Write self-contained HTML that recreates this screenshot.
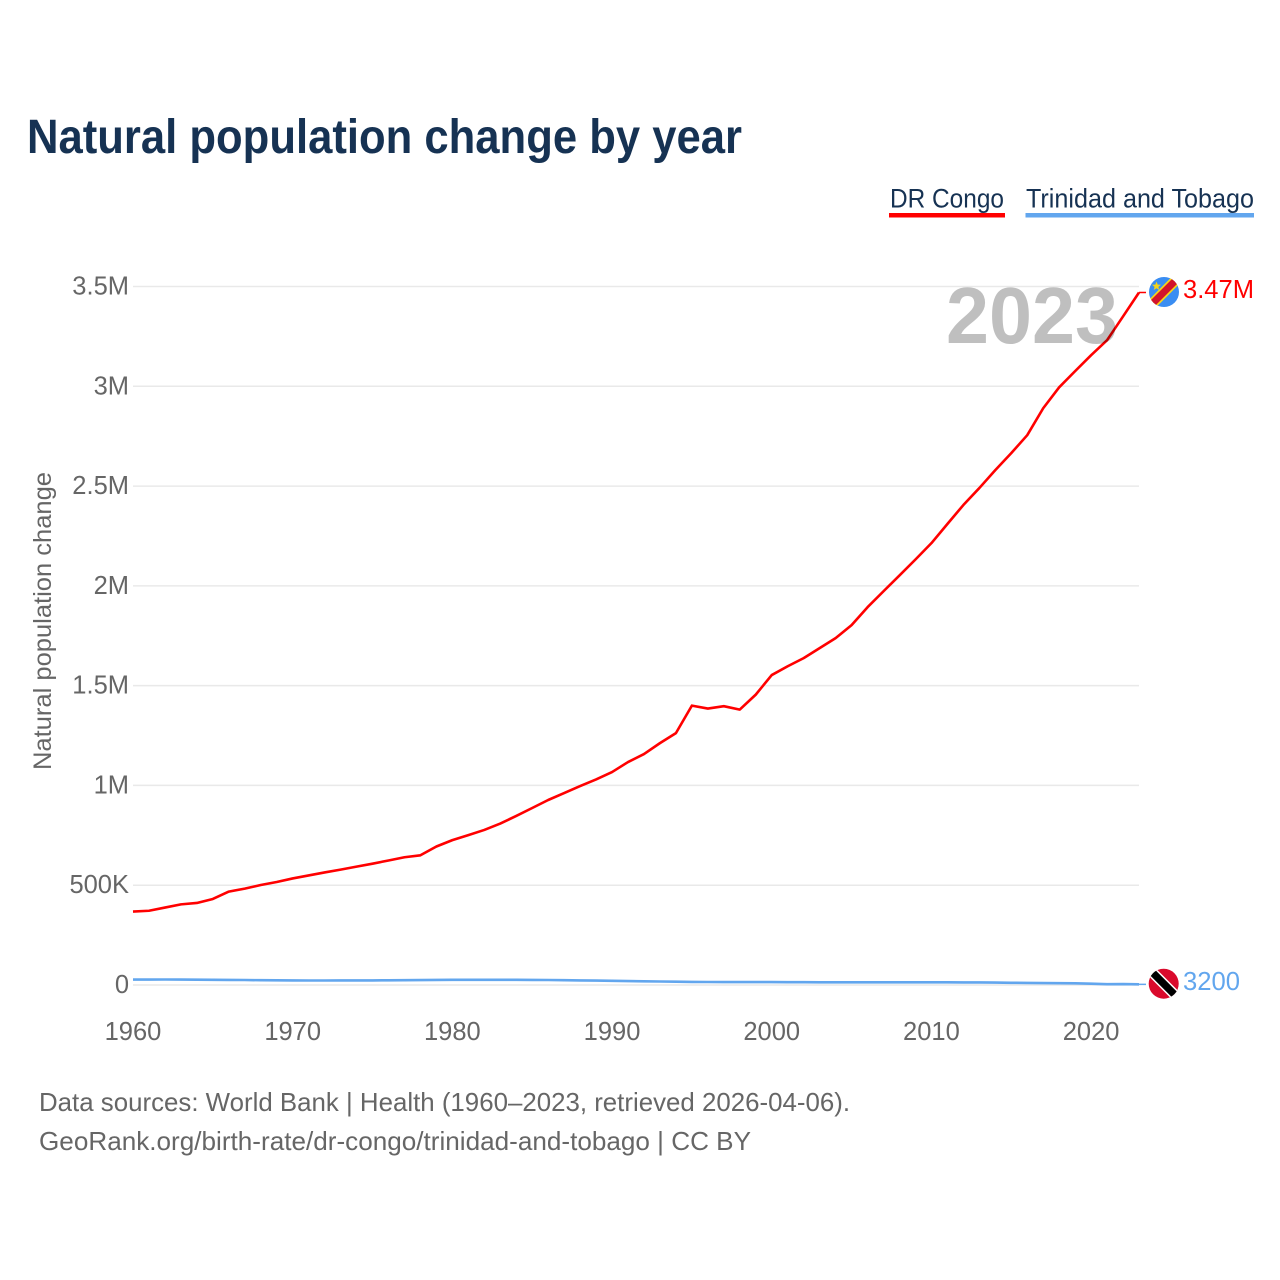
<!DOCTYPE html>
<html lang="en">
<head>
<meta charset="utf-8">
<title>Natural population change by year</title>
<style>
html,body{margin:0;padding:0;background:#fff;}
svg{display:block;font-family:"Liberation Sans",sans-serif;}
</style>
</head>
<body>
<svg id="chart" width="1280" height="1280" viewBox="0 0 1280 1280" xmlns="http://www.w3.org/2000/svg">
<defs>
<clipPath id="flag-clip-a"><circle cx="1164" cy="292" r="15"/></clipPath>
<clipPath id="flag-clip-b"><circle cx="1163.7" cy="983.7" r="15"/></clipPath>
</defs>
<rect width="1280" height="1280" fill="#fff"/>
<text x="27" y="153" font-size="48" font-weight="700" fill="#163253" textLength="715" lengthAdjust="spacingAndGlyphs">Natural population change by year</text>

<g>
<g>
<text x="890" y="207.5" font-size="27" fill="#163253" textLength="114" lengthAdjust="spacingAndGlyphs">DR Congo</text>
<rect x="889" y="213" width="116" height="4.5" fill="#ff0000"/>
</g>
<g>
<text x="1026" y="207.5" font-size="27" fill="#163253" textLength="228" lengthAdjust="spacingAndGlyphs">Trinidad and Tobago</text>
<rect x="1025.5" y="213" width="228.5" height="4.5" fill="#62a6ee"/>
</g>
</g>

<g id="grid"></g>
<g id="y-ticks"></g>
<g id="x-ticks"></g>
<text transform="translate(51,621) rotate(-90)" text-anchor="middle" font-size="25" fill="#666" textLength="298" lengthAdjust="spacingAndGlyphs">Natural population change</text>

<g id="series"></g>

<text id="year-label" x="1118" y="343" text-anchor="end" font-size="80" font-weight="700" fill="#000" fill-opacity="0.25" textLength="172" lengthAdjust="spacingAndGlyphs">2023</text>

<g>
<g clip-path="url(#flag-clip-a)">
<rect x="1148" y="276" width="32" height="32" fill="#3a8df2"/>
<line x1="1146" y1="310" x2="1182" y2="274" stroke="#f7d518" stroke-width="10.5"/>
<line x1="1146" y1="310" x2="1182" y2="274" stroke="#d2142c" stroke-width="7"/>
</g>
<polygon points="1156.5,281.5 1157.7,284.6 1161,284.8 1158.4,286.9 1159.3,290 1156.5,288.3 1153.7,290 1154.6,286.9 1152,284.8 1155.3,284.6" fill="#f7d518"/>
</g>
<g>
<g clip-path="url(#flag-clip-b)">
<rect x="1147" y="967" width="34" height="34" fill="#da0a2c"/>
<line x1="1145.7" y1="965.7" x2="1181.7" y2="1001.7" stroke="#fff" stroke-width="10.5"/>
<line x1="1145.7" y1="965.7" x2="1181.7" y2="1001.7" stroke="#000" stroke-width="7.5"/>
</g>
</g>
<text id="value-a" x="1183" y="298" font-size="25.5" fill="#ff0000" textLength="71" lengthAdjust="spacingAndGlyphs"></text>
<text id="value-b" x="1183" y="990" font-size="25.5" fill="#62a6ee" textLength="57" lengthAdjust="spacingAndGlyphs"></text>

<g>
<text x="39" y="1111" font-size="26" fill="#666" textLength="811" lengthAdjust="spacingAndGlyphs">Data sources: World Bank | Health (1960–2023, retrieved 2026-04-06).</text>
<text x="39" y="1150" font-size="26" fill="#666" textLength="712" lengthAdjust="spacingAndGlyphs">GeoRank.org/birth-rate/dr-congo/trinidad-and-tobago | CC BY</text>
</g>
</svg>
<script>
const years = [
  1960,1961,1962,1963,1964,1965,1966,1967,1968,1969,
  1970,1971,1972,1973,1974,1975,1976,1977,1978,1979,
  1980,1981,1982,1983,1984,1985,1986,1987,1988,1989,
  1990,1991,1992,1993,1994,1995,1996,1997,1998,1999,
  2000,2001,2002,2003,2004,2005,2006,2007,2008,2009,
  2010,2011,2012,2013,2014,2015,2016,2017,2018,2019,
  2020,2021,2022,2023
];
const drCongo = [
  368000,372000,388000,404000,411000,431000,468000,483000,501000,516000,
  534000,549000,564000,578000,593000,608000,624000,640000,650000,694000,
  726000,751000,777000,809000,847000,887000,927000,962000,997000,1030000,
  1067000,1117000,1157000,1212000,1262000,1400000,1385000,1397000,1380000,1455000,
  1553000,1597000,1638000,1688000,1738000,1803000,1893000,1973000,2052000,2132000,
  2214000,2310000,2405000,2490000,2580000,2665000,2755000,2890000,2995000,3076000,
  3156000,3231000,3350000,3470000
];
const trinidad = [
  27000,27000,27500,27000,26500,26000,25500,25000,24000,23500,
  23000,22500,22500,23000,23000,23000,23500,24000,24500,25500,
  26000,26000,26000,26000,26000,25500,25000,24000,23000,22000,
  21000,19500,18500,17500,16500,15500,15000,14500,14500,14500,
  14500,14000,14000,13500,13500,13500,13500,13500,13500,13500,
  13500,13500,13000,13000,12000,11000,10500,9500,9000,8500,
  6500,4000,4500,3200
];
const yTicks = [0,500000,1000000,1500000,2000000,2500000,3000000,3500000];
const yTickLabels = ['0','500K','1M','1.5M','2M','2.5M','3M','3.5M'];
const xTicks = [1960,1970,1980,1990,2000,2010,2020];
const latestLabels = ['3.47M','3200'];

const NS = 'http://www.w3.org/2000/svg';
function xScale(year){ return 133 + (year - 1960) * (1139 - 133) / 63; }
function yScale(value){ return 985 - value * (985 - 286.5) / 3500000; }

const gridGroup = document.getElementById('grid');
const yTickGroup = document.getElementById('y-ticks');
const xTickGroup = document.getElementById('x-ticks');
const seriesGroup = document.getElementById('series');

yTicks.forEach(function(tick, i){
  const line = document.createElementNS(NS, 'line');
  
  
  line.setAttribute('x1', 133);
  line.setAttribute('x2', 1139);
  line.setAttribute('y1', yScale(tick));
  line.setAttribute('y2', yScale(tick));
  line.setAttribute('stroke', '#e9e9e9');
  line.setAttribute('stroke-width', '1.5');
  gridGroup.appendChild(line);
  const label = document.createElementNS(NS, 'text');
  
  
  label.setAttribute('x', 129);
  label.setAttribute('y', yScale(tick) + 8);
  label.setAttribute('text-anchor', 'end');
  label.setAttribute('font-size', '25.5');
  label.setAttribute('fill', '#666');
  label.textContent = yTickLabels[i];
  yTickGroup.appendChild(label);
});

xTicks.forEach(function(tick){
  const label = document.createElementNS(NS, 'text');
  
  
  label.setAttribute('x', xScale(tick));
  label.setAttribute('y', 1040);
  label.setAttribute('text-anchor', 'middle');
  label.setAttribute('font-size', '25.5');
  label.setAttribute('fill', '#666');
  label.textContent = String(tick);
  xTickGroup.appendChild(label);
});

function drawSeries(values, colour, name){
  const path = document.createElementNS(NS, 'path');
  
  
  const pts = values.map(function(v, i){ return xScale(years[i]).toFixed(2) + ',' + yScale(v).toFixed(2); });
  path.setAttribute('d', 'M' + pts.join('L'));
  path.setAttribute('fill', 'none');
  path.setAttribute('stroke', colour);
  path.setAttribute('stroke-width', '2.6');
  path.setAttribute('stroke-linejoin', 'round');
  seriesGroup.appendChild(path);

  const lastYear = years[years.length - 1];
  const lastValue = values[values.length - 1];
  const leader = document.createElementNS(NS, 'line');
  
  
  leader.setAttribute('x1', xScale(lastYear));
  leader.setAttribute('x2', xScale(lastYear) + 7);
  leader.setAttribute('y1', yScale(lastValue));
  leader.setAttribute('y2', yScale(lastValue));
  leader.setAttribute('stroke', colour);
  leader.setAttribute('stroke-width', '1.5');
  seriesGroup.appendChild(leader);
}
drawSeries(trinidad, '#62a6ee', 'line-trinidad-and-tobago');
drawSeries(drCongo, '#ff0000', 'line-dr-congo');

document.getElementById('value-a').textContent = latestLabels[0];
document.getElementById('value-b').textContent = latestLabels[1];
</script>
</body>
</html>
